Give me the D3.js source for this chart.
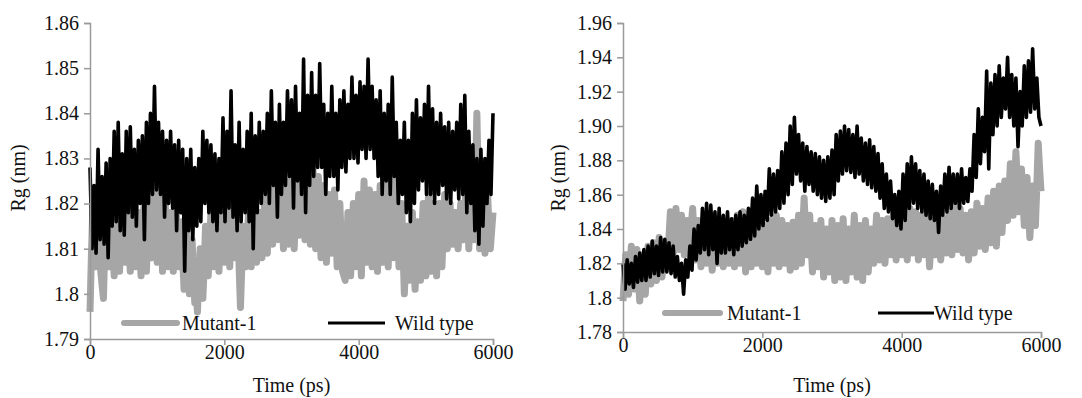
<!DOCTYPE html>
<html>
<head>
<meta charset="utf-8">
<script src="https://cdn.jsdelivr.net/npm/d3@7"></script>
<style>
  body { margin: 0; background: #fff; }
  svg { display: block; }
  svg text { font-family: "Liberation Serif", "DejaVu Serif", "Times New Roman", serif; fill: #111; }
  .axis path, .axis line { stroke: #9a9a9a; stroke-width: 1.5px; }
  .axis text { font-size: 20px; }
</style>
</head>
<body>
<div id="chart"></div>
<script>
// sampling intervals of the traces (ps)
const mutantStep = 20;
const wildStep = 30;
const xTicks = [0, 2000, 4000, 6000];

// left panel
const leftYTicks = [1.79, 1.8, 1.81, 1.82, 1.83, 1.84, 1.85, 1.86];
const leftYLabels = ['1.79', '1.8', '1.81', '1.82', '1.83', '1.84', '1.85', '1.86'];

const leftMutant = [
  1.796, 1.808, 1.818, 1.812, 1.806, 1.814, 1.82, 1.81, 1.805, 1.802, 1.799, 1.81, 1.817, 1.81, 1.806, 1.812, 1.819, 1.81, 1.804, 1.81,
  1.816, 1.81, 1.805, 1.813, 1.821, 1.812, 1.807, 1.814, 1.819, 1.811, 1.805, 1.812, 1.82, 1.812, 1.806, 1.81, 1.818, 1.81, 1.804, 1.812,
  1.819, 1.81, 1.805, 1.814, 1.822, 1.814, 1.808, 1.818, 1.826, 1.815, 1.807, 1.816, 1.824, 1.814, 1.805, 1.812, 1.82, 1.812, 1.806, 1.812,
  1.818, 1.81, 1.805, 1.812, 1.82, 1.812, 1.806, 1.81, 1.816, 1.808, 1.801, 1.808, 1.815, 1.806, 1.8, 1.806, 1.812, 1.804, 1.798, 1.8,
  1.796, 1.804, 1.81, 1.804, 1.799, 1.806, 1.815, 1.808, 1.804, 1.81, 1.818, 1.81, 1.806, 1.81, 1.816, 1.81, 1.805, 1.812, 1.82, 1.813,
  1.807, 1.815, 1.823, 1.814, 1.806, 1.813, 1.82, 1.813, 1.808, 1.812, 1.818, 1.806, 1.797, 1.806, 1.815, 1.81, 1.806, 1.812, 1.818, 1.812,
  1.806, 1.812, 1.82, 1.812, 1.807, 1.812, 1.818, 1.812, 1.808, 1.814, 1.821, 1.814, 1.809, 1.818, 1.826, 1.818, 1.811, 1.818, 1.824, 1.818,
  1.812, 1.818, 1.826, 1.818, 1.81, 1.818, 1.825, 1.818, 1.811, 1.819, 1.827, 1.818, 1.81, 1.818, 1.826, 1.82, 1.813, 1.82, 1.828, 1.82,
  1.812, 1.82, 1.827, 1.818, 1.811, 1.82, 1.828, 1.818, 1.81, 1.818, 1.826, 1.816, 1.808, 1.816, 1.824, 1.815, 1.807, 1.814, 1.822, 1.815,
  1.809, 1.816, 1.823, 1.814, 1.806, 1.813, 1.82, 1.812, 1.805, 1.804, 1.803, 1.81, 1.818, 1.81, 1.804, 1.812, 1.82, 1.812, 1.806, 1.814,
  1.822, 1.812, 1.804, 1.815, 1.825, 1.815, 1.807, 1.815, 1.823, 1.814, 1.806, 1.814, 1.822, 1.812, 1.805, 1.815, 1.824, 1.815, 1.807, 1.816,
  1.825, 1.815, 1.806, 1.816, 1.826, 1.816, 1.808, 1.818, 1.827, 1.815, 1.806, 1.812, 1.82, 1.81, 1.8, 1.808, 1.815, 1.808, 1.803, 1.81,
  1.818, 1.808, 1.801, 1.808, 1.816, 1.81, 1.803, 1.812, 1.82, 1.812, 1.804, 1.814, 1.822, 1.812, 1.805, 1.812, 1.82, 1.812, 1.804, 1.812,
  1.82, 1.812, 1.806, 1.814, 1.822, 1.815, 1.81, 1.815, 1.82, 1.815, 1.811, 1.815, 1.818, 1.814, 1.81, 1.815, 1.82, 1.816, 1.812, 1.818,
  1.825, 1.818, 1.81, 1.82, 1.83, 1.82, 1.812, 1.825, 1.84, 1.825, 1.81, 1.818, 1.828, 1.818, 1.809, 1.815, 1.822, 1.815, 1.81, 1.814,
  1.818
];

const leftWild = [
  1.828, 1.81, 1.824, 1.809, 1.832, 1.812, 1.826, 1.811, 1.829, 1.808, 1.83, 1.815, 1.836, 1.816, 1.838, 1.814, 1.831, 1.813, 1.836, 1.818,
  1.837, 1.817, 1.832, 1.815, 1.834, 1.82, 1.835, 1.812, 1.838, 1.82, 1.84, 1.822, 1.846, 1.823, 1.838, 1.822, 1.836, 1.817, 1.834, 1.82,
  1.836, 1.819, 1.833, 1.814, 1.834, 1.818, 1.832, 1.805, 1.83, 1.814, 1.832, 1.812, 1.828, 1.815, 1.83, 1.816, 1.836, 1.82, 1.834, 1.818,
  1.833, 1.816, 1.831, 1.814, 1.83, 1.818, 1.839, 1.816, 1.836, 1.819, 1.845, 1.817, 1.833, 1.814, 1.838, 1.816, 1.832, 1.818, 1.836, 1.816,
  1.84, 1.81, 1.835, 1.818, 1.838, 1.82, 1.836, 1.822, 1.84, 1.82, 1.845, 1.824, 1.838, 1.817, 1.842, 1.822, 1.838, 1.824, 1.845, 1.826,
  1.843, 1.819, 1.846, 1.825, 1.84, 1.822, 1.852, 1.818, 1.844, 1.824, 1.849, 1.826, 1.844, 1.828, 1.851, 1.828, 1.842, 1.822, 1.84, 1.826,
  1.846, 1.826, 1.84, 1.823, 1.843, 1.828, 1.845, 1.827, 1.842, 1.83, 1.848, 1.83, 1.844, 1.829, 1.847, 1.832, 1.846, 1.83, 1.852, 1.832,
  1.846, 1.83, 1.843, 1.826, 1.845, 1.822, 1.84, 1.825, 1.842, 1.822, 1.848, 1.826, 1.838, 1.82, 1.834, 1.822, 1.838, 1.818, 1.834, 1.816,
  1.84, 1.82, 1.843, 1.823, 1.839, 1.825, 1.842, 1.822, 1.846, 1.822, 1.841, 1.82, 1.838, 1.822, 1.84, 1.824, 1.837, 1.821, 1.838, 1.82,
  1.836, 1.823, 1.838, 1.821, 1.842, 1.822, 1.844, 1.818, 1.836, 1.82, 1.833, 1.814, 1.83, 1.811, 1.832, 1.815, 1.83, 1.82, 1.834, 1.822,
  1.84
];

// right panel
const rightYTicks = [1.78, 1.8, 1.82, 1.84, 1.86, 1.88, 1.9, 1.92, 1.94, 1.96];
const rightYLabels = ['1.78', '1.8', '1.82', '1.84', '1.86', '1.88', '1.90', '1.92', '1.94', '1.96'];

const rightMutant = [
  1.798, 1.812, 1.825, 1.814, 1.802, 1.816, 1.83, 1.818, 1.805, 1.816, 1.828, 1.812, 1.798, 1.81, 1.825, 1.814, 1.802, 1.815, 1.83, 1.82,
  1.808, 1.82, 1.832, 1.822, 1.81, 1.822, 1.835, 1.824, 1.812, 1.822, 1.832, 1.826, 1.818, 1.835, 1.85, 1.838, 1.826, 1.84, 1.852, 1.84,
  1.828, 1.838, 1.848, 1.836, 1.825, 1.835, 1.845, 1.838, 1.83, 1.842, 1.852, 1.836, 1.822, 1.832, 1.845, 1.832, 1.818, 1.83, 1.84, 1.83,
  1.82, 1.832, 1.842, 1.83, 1.816, 1.828, 1.838, 1.83, 1.82, 1.83, 1.84, 1.828, 1.818, 1.83, 1.842, 1.832, 1.82, 1.834, 1.845, 1.832,
  1.818, 1.834, 1.848, 1.834, 1.82, 1.836, 1.85, 1.832, 1.815, 1.83, 1.845, 1.83, 1.818, 1.834, 1.848, 1.834, 1.82, 1.832, 1.845, 1.83,
  1.818, 1.83, 1.842, 1.83, 1.815, 1.83, 1.845, 1.832, 1.82, 1.834, 1.848, 1.832, 1.818, 1.832, 1.845, 1.832, 1.82, 1.83, 1.842, 1.828,
  1.816, 1.83, 1.844, 1.83, 1.818, 1.834, 1.848, 1.834, 1.82, 1.84, 1.858, 1.84, 1.825, 1.836, 1.848, 1.83, 1.815, 1.828, 1.842, 1.83,
  1.818, 1.832, 1.845, 1.828, 1.812, 1.826, 1.84, 1.828, 1.815, 1.83, 1.845, 1.826, 1.81, 1.826, 1.842, 1.826, 1.812, 1.83, 1.846, 1.828,
  1.81, 1.825, 1.84, 1.828, 1.815, 1.832, 1.848, 1.83, 1.812, 1.826, 1.842, 1.826, 1.81, 1.828, 1.845, 1.83, 1.815, 1.828, 1.84, 1.83,
  1.82, 1.834, 1.848, 1.835, 1.822, 1.834, 1.845, 1.832, 1.82, 1.834, 1.846, 1.836, 1.825, 1.836, 1.848, 1.835, 1.822, 1.834, 1.845, 1.836,
  1.825, 1.836, 1.848, 1.835, 1.822, 1.838, 1.852, 1.84, 1.826, 1.838, 1.85, 1.836, 1.822, 1.835, 1.848, 1.836, 1.825, 1.838, 1.852, 1.835,
  1.818, 1.832, 1.845, 1.835, 1.825, 1.836, 1.848, 1.835, 1.822, 1.834, 1.846, 1.836, 1.826, 1.838, 1.85, 1.838, 1.825, 1.84, 1.856, 1.84,
  1.828, 1.84, 1.852, 1.84, 1.826, 1.836, 1.848, 1.835, 1.822, 1.836, 1.85, 1.838, 1.826, 1.84, 1.855, 1.842, 1.83, 1.84, 1.852, 1.84,
  1.828, 1.842, 1.858, 1.845, 1.832, 1.846, 1.862, 1.845, 1.83, 1.848, 1.865, 1.852, 1.838, 1.852, 1.868, 1.855, 1.845, 1.86, 1.878, 1.862,
  1.848, 1.866, 1.885, 1.868, 1.85, 1.862, 1.875, 1.858, 1.842, 1.856, 1.87, 1.852, 1.835, 1.85, 1.865, 1.852, 1.842, 1.865, 1.89, 1.875,
  1.862
];

const rightWild = [
  1.82, 1.805, 1.822, 1.808, 1.82, 1.806, 1.824, 1.809, 1.826, 1.81, 1.828, 1.81, 1.83, 1.812, 1.833, 1.814, 1.83, 1.813, 1.835, 1.815,
  1.834, 1.815, 1.832, 1.814, 1.83, 1.812, 1.824, 1.81, 1.82, 1.802, 1.822, 1.812, 1.83, 1.816, 1.84, 1.822, 1.842, 1.826, 1.852, 1.828,
  1.855, 1.825, 1.854, 1.828, 1.85, 1.82, 1.852, 1.826, 1.848, 1.826, 1.85, 1.828, 1.846, 1.825, 1.848, 1.828, 1.85, 1.83, 1.848, 1.832,
  1.852, 1.834, 1.858, 1.836, 1.865, 1.84, 1.86, 1.842, 1.862, 1.845, 1.875, 1.848, 1.872, 1.85, 1.874, 1.852, 1.885, 1.855, 1.89, 1.86,
  1.9, 1.866, 1.905, 1.872, 1.895, 1.868, 1.89, 1.862, 1.888, 1.866, 1.885, 1.862, 1.884, 1.86, 1.882, 1.858, 1.88, 1.856, 1.882, 1.858,
  1.886, 1.86, 1.895, 1.868, 1.897, 1.872, 1.9, 1.874, 1.898, 1.873, 1.895, 1.87, 1.9, 1.872, 1.893, 1.868, 1.89, 1.866, 1.892, 1.864,
  1.888, 1.862, 1.884, 1.858, 1.878, 1.852, 1.872, 1.85, 1.868, 1.846, 1.86, 1.842, 1.862, 1.84, 1.872, 1.845, 1.878, 1.852, 1.882, 1.855,
  1.878, 1.852, 1.874, 1.85, 1.872, 1.848, 1.868, 1.846, 1.866, 1.845, 1.862, 1.838, 1.865, 1.848, 1.872, 1.85, 1.876, 1.852, 1.872, 1.855,
  1.872, 1.852, 1.875, 1.855, 1.87, 1.856, 1.875, 1.862, 1.895, 1.87, 1.91, 1.878, 1.905, 1.885, 1.932, 1.875, 1.925, 1.895, 1.93, 1.9,
  1.935, 1.905, 1.928, 1.91, 1.94, 1.905, 1.93, 1.9, 1.928, 1.888, 1.92, 1.9, 1.935, 1.905, 1.938, 1.908, 1.945, 1.91, 1.928, 1.905,
  1.9
];

const mutantColor = '#a6a6a6';
const wildColor = '#000000';

const svg = d3.select('#chart').append('svg')
  .attr('width', 1082)
  .attr('height', 398);

svg.append('rect').attr('width', 1082).attr('height', 398).attr('fill', '#fff');

function drawPanel(opts) {
  const x = d3.scaleLinear().domain([0, 6000]).range([opts.x0, opts.x1]);
  const y = d3.scaleLinear().domain(opts.yDomain).range([opts.yBottom, opts.yTop]);

  const lineFor = step => d3.line()
    .x((d, i) => x(i * step))
    .y(d => y(d));

  const g = svg.append('g');

  g.append('path')
    .datum(opts.mutant)
    .attr('fill', 'none')
    .attr('stroke', mutantColor)
    .attr('stroke-width', 7)
    .attr('stroke-linejoin', 'round')
    .attr('d', lineFor(mutantStep));

  g.append('path')
    .datum(opts.wild)
    .attr('fill', 'none')
    .attr('stroke', wildColor)
    .attr('stroke-width', 3.6)
    .attr('stroke-linejoin', 'round')
    .attr('d', lineFor(wildStep));

  const labelMap = new Map(opts.yTicks.map((v, i) => [v, opts.yLabels[i]]));

  const yAxis = g.append('g')
    .attr('class', 'axis')
    .attr('transform', 'translate(' + opts.x0 + ',0)')
    .call(d3.axisLeft(y).tickValues(opts.yTicks).tickFormat(d => labelMap.get(d)).tickSize(6).tickPadding(5));

  const xAxis = g.append('g')
    .attr('class', 'axis')
    .attr('transform', 'translate(0,' + opts.yBottom + ')')
    .call(d3.axisBottom(x).tickValues(xTicks).tickFormat(d3.format('d')).tickSize(6).tickPadding(0));

  // drop the axis font attributes so the serif face applies
  yAxis.attr('font-family', null).attr('font-size', null);
  xAxis.attr('font-family', null).attr('font-size', null);

  g.append('text')
    .attr('x', (opts.x0 + opts.x1) / 2)
    .attr('y', 392)
    .attr('text-anchor', 'middle')
    .style('font-size', '20px')
    .text('Time (ps)');

  g.append('text')
    .attr('transform', 'translate(' + opts.yLabelX + ',178) rotate(-90)')
    .attr('dy', '.35em')
    .attr('text-anchor', 'middle')
    .style('font-size', '20px')
    .text('Rg (nm)');

  // legend
  const lg = g.append('g');
  lg.append('line')
    .attr('x1', opts.legend.m0).attr('x2', opts.legend.m1)
    .attr('y1', opts.legend.y).attr('y2', opts.legend.y)
    .attr('stroke', mutantColor).attr('stroke-width', 6).attr('stroke-linecap', 'round');
  lg.append('text')
    .attr('x', opts.legend.mt).attr('y', opts.legend.y + 7)
    .style('font-size', '20px')
    .text('Mutant-1');
  lg.append('line')
    .attr('x1', opts.legend.w0).attr('x2', opts.legend.w1)
    .attr('y1', opts.legend.y).attr('y2', opts.legend.y)
    .attr('stroke', wildColor).attr('stroke-width', 3);
  lg.append('text')
    .attr('x', opts.legend.wt).attr('y', opts.legend.y + 7)
    .style('font-size', '20px')
    .text('Wild type');
}

drawPanel({
  x0: 90, x1: 493, yTop: 23, yBottom: 339,
  yDomain: [1.79, 1.86],
  yTicks: leftYTicks, yLabels: leftYLabels,
  mutant: leftMutant, wild: leftWild,
  yLabelX: 18,
  legend: { y: 323, m0: 124, m1: 177, mt: 182, w0: 328, w1: 385, wt: 395 }
});

drawPanel({
  x0: 623, x1: 1041, yTop: 23, yBottom: 332,
  yDomain: [1.78, 1.96],
  yTicks: rightYTicks, yLabels: rightYLabels,
  mutant: rightMutant, wild: rightWild,
  yLabelX: 558,
  legend: { y: 313, m0: 665, m1: 720, mt: 727, w0: 878, w1: 934, wt: 934 }
});
</script>
</body>
</html>
